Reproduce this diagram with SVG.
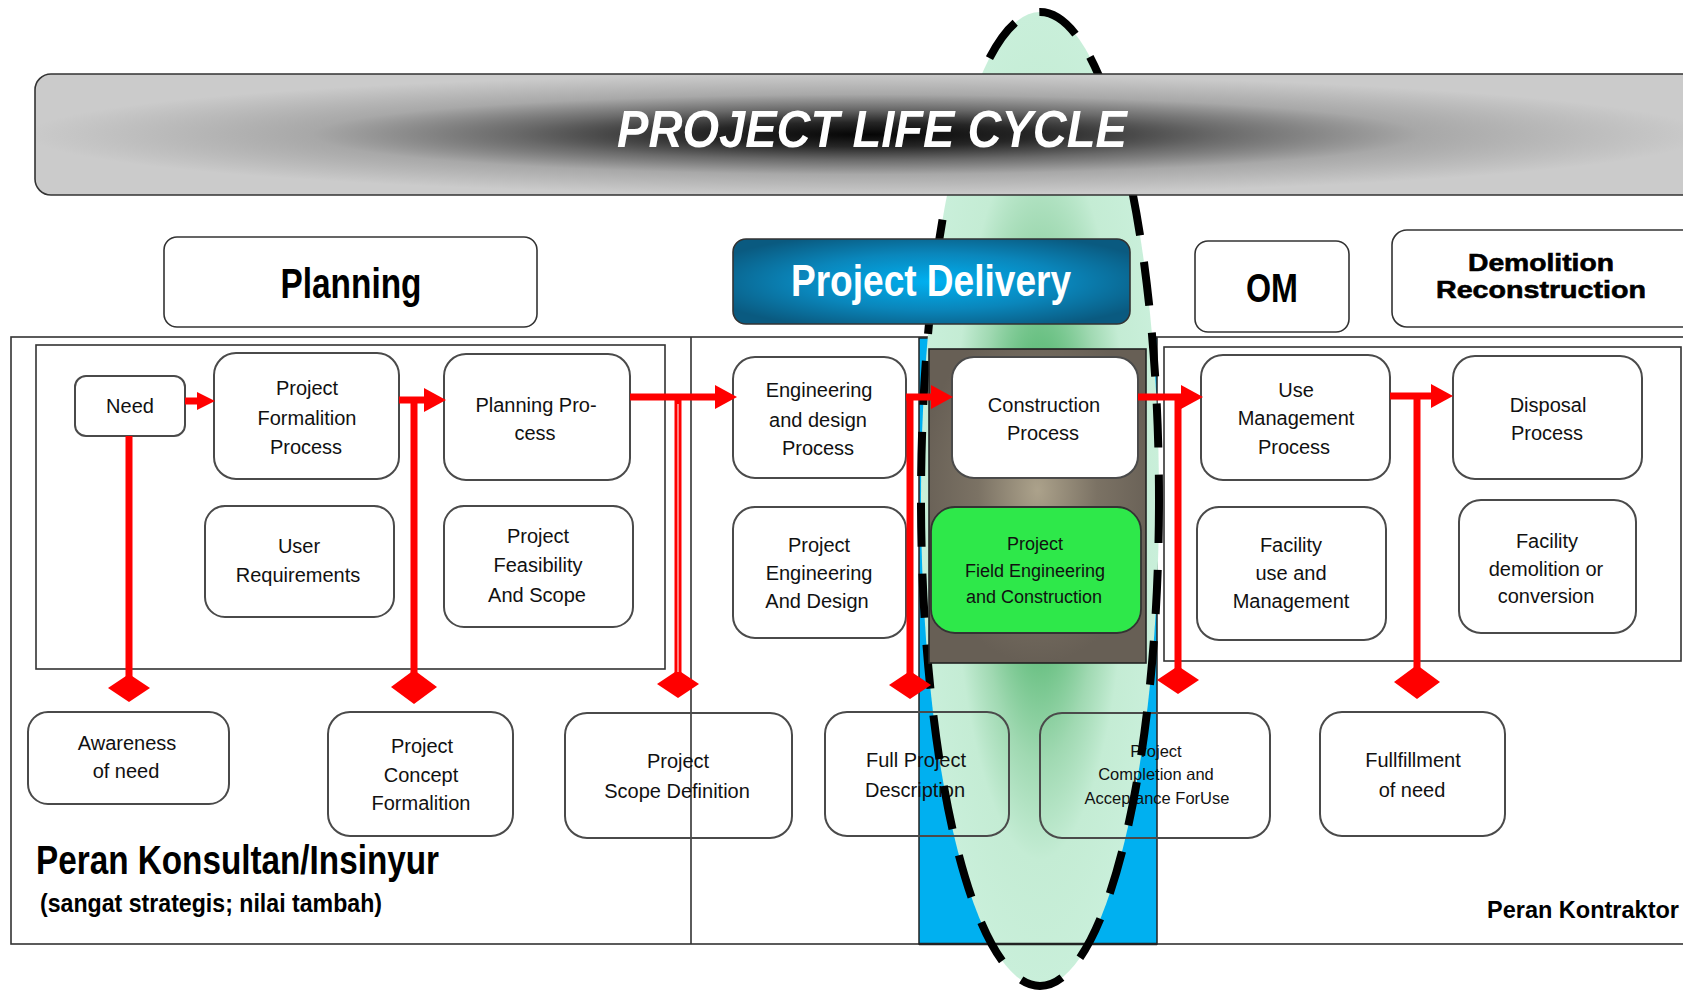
<svg xmlns="http://www.w3.org/2000/svg" width="1683" height="992" viewBox="0 0 1683 992">
<defs>
<style>
.t{font-family:"Liberation Sans",Arial,sans-serif;font-size:20px;fill:#111;text-anchor:middle}
.ts{font-size:16.5px}
.tg{font-size:18px}
.h{font-family:"Liberation Sans",Arial,sans-serif;font-weight:bold;text-anchor:middle;fill:#000}
.nb{fill:#fff;stroke:#4a4a4a;stroke-width:2}
.nbo{fill:none;stroke:#4a4a4a;stroke-width:2}
.fr{fill:none;stroke:#333;stroke-width:1.6}
.cn{fill:none;stroke:#ff0000;stroke-width:7}
</style>
<radialGradient id="gBar" cx="0.495" cy="0.5" r="0.5">
<stop offset="0" stop-color="#050505"/>
<stop offset="0.2" stop-color="#262626"/>
<stop offset="0.42" stop-color="#6a6a6a"/>
<stop offset="0.66" stop-color="#a8a8a8"/>
<stop offset="1" stop-color="#cbcbcb"/>
</radialGradient>
<radialGradient id="gEll" cx="0.5" cy="0.5" r="0.5">
<stop offset="0" stop-color="#4fb169"/>
<stop offset="0.32" stop-color="#69c082"/>
<stop offset="0.54" stop-color="#a0d9b2"/>
<stop offset="0.74" stop-color="#c4ecd4"/>
<stop offset="1" stop-color="#c9efda"/>
</radialGradient>
<radialGradient id="gPD" cx="0.5" cy="0.5" r="0.6">
<stop offset="0" stop-color="#00b0f0"/>
<stop offset="0.55" stop-color="#0a86bb"/>
<stop offset="1" stop-color="#0a5a80"/>
</radialGradient>
<radialGradient id="gBr" cx="0.5" cy="0.45" r="0.55">
<stop offset="0" stop-color="#aca28b"/>
<stop offset="0.5" stop-color="#7b7264"/>
<stop offset="1" stop-color="#675f55"/>
</radialGradient>
<marker id="arr" markerUnits="userSpaceOnUse" markerWidth="24" markerHeight="26" refX="0" refY="12" orient="auto" overflow="visible"><path d="M0,0 L22,12 L0,24 Z" fill="#ff0000"/></marker>
<marker id="arrS" markerUnits="userSpaceOnUse" markerWidth="20" markerHeight="20" refX="0" refY="9" orient="auto" overflow="visible"><path d="M0,0 L18,9 L0,18 Z" fill="#ff0000"/></marker>
<marker id="dia" markerUnits="userSpaceOnUse" markerWidth="44" markerHeight="32" refX="21" refY="14" orient="0" overflow="visible"><path d="M0,14 L21,0 L42,14 L21,28 Z" fill="#ff0000"/></marker>
<marker id="diaL" markerUnits="userSpaceOnUse" markerWidth="48" markerHeight="36" refX="23" refY="17" orient="0" overflow="visible"><path d="M0,17 L23,0 L46,17 L23,34 Z" fill="#ff0000"/></marker>
</defs>

<rect x="0" y="0" width="1683" height="992" fill="#fff"/>

<g id="frames">
<rect class="fr" x="11" y="337" width="1700" height="607"/>
<line class="fr" x1="691" y1="337" x2="691" y2="944"/>
<rect class="fr" x="36" y="345" width="629" height="324"/>
<rect class="fr" x="1164" y="347" width="517" height="314"/>
</g>

<g id="node-need"><rect class="nb" x="75" y="376" width="110" height="60" rx="11"/><text class="t" x="130" y="413">Need</text></g>
<g id="node-formalition"><rect class="nb" x="214" y="353" width="185" height="126" rx="22"/><text class="t" x="307" y="395">Project</text><text class="t" x="307" y="425">Formalition</text><text class="t" x="306" y="454">Process</text></g>
<g id="node-planning-process"><rect class="nb" x="444" y="354" width="186" height="126" rx="22"/><text class="t" x="536" y="412">Planning Pro-</text><text class="t" x="535" y="440">cess</text></g>
<g id="node-user-req"><rect class="nb" x="205" y="506" width="189" height="111" rx="20"/><text class="t" x="299" y="553">User</text><text class="t" x="298" y="582">Requirements</text></g>
<g id="node-feasibility"><rect class="nb" x="444" y="506" width="189" height="121" rx="20"/><text class="t" x="538" y="543">Project</text><text class="t" x="538" y="572">Feasibility</text><text class="t" x="537" y="602">And Scope</text></g>
<g id="node-eng-process"><rect class="nb" x="733" y="357" width="173" height="121" rx="22"/><text class="t" x="819" y="397">Engineering</text><text class="t" x="818" y="427">and design</text><text class="t" x="818" y="455">Process</text></g>
<g id="node-proj-eng"><rect class="nb" x="733" y="507" width="173" height="131" rx="22"/><text class="t" x="819" y="552">Project</text><text class="t" x="819" y="580">Engineering</text><text class="t" x="817" y="608">And Design</text></g>
<g id="node-use-mgmt"><rect class="nb" x="1201" y="355" width="189" height="125" rx="22"/><text class="t" x="1296" y="397">Use</text><text class="t" x="1296" y="425">Management</text><text class="t" x="1294" y="454">Process</text></g>
<g id="node-facility-use"><rect class="nb" x="1197" y="507" width="189" height="133" rx="22"/><text class="t" x="1291" y="552">Facility</text><text class="t" x="1291" y="580">use and</text><text class="t" x="1291" y="608">Management</text></g>
<g id="node-disposal"><rect class="nb" x="1453" y="356" width="189" height="123" rx="22"/><text class="t" x="1548" y="412">Disposal</text><text class="t" x="1547" y="440">Process</text></g>
<g id="node-facility-demo"><rect class="nb" x="1459" y="500" width="177" height="133" rx="22"/><text class="t" x="1547" y="548">Facility</text><text class="t" x="1546" y="576">demolition or</text><text class="t" x="1546" y="603">conversion</text></g>

<g id="contractor-band">
<rect x="919" y="338" width="238" height="606" fill="#00b0f0" stroke="#222" stroke-width="1.5"/>
</g>
<g id="focus-ellipse-fill">
<ellipse cx="1040" cy="499" rx="119" ry="487" fill="url(#gEll)"/>
<line x1="919" y1="944" x2="1157" y2="944" stroke="#222" stroke-width="2.5"/>
</g>

<g id="node-awareness"><rect class="nbo" x="28" y="712" width="201" height="92" rx="20"/><text class="t" x="127" y="750">Awareness</text><text class="t" x="126" y="778">of need</text></g>
<g id="node-concept"><rect class="nbo" x="328" y="712" width="185" height="124" rx="22"/><text class="t" x="422" y="753">Project</text><text class="t" x="421" y="782">Concept</text><text class="t" x="421" y="810">Formalition</text></g>
<g id="node-scope"><rect class="nbo" x="565" y="713" width="227" height="125" rx="22"/><text class="t" x="678" y="768">Project</text><text class="t" x="677" y="798">Scope Definition</text></g>
<g id="node-full-desc"><rect class="nbo" x="825" y="712" width="184" height="124" rx="22"/><text class="t" x="916" y="767">Full Project</text><text class="t" x="915" y="797">Description</text></g>
<g id="node-completion"><rect class="nbo" x="1040" y="713" width="230" height="125" rx="22"/><text class="t ts" x="1156" y="757">Project</text><text class="t ts" x="1156" y="780">Completion and</text><text class="t ts" x="1157" y="804">Acceptance ForUse</text></g>
<g id="node-fulfillment"><rect class="nbo" x="1320" y="712" width="185" height="124" rx="22"/><text class="t" x="1413" y="767">Fullfillment</text><text class="t" x="1412" y="797">of need</text></g>

<g id="focus-ellipse-outline">
<ellipse cx="1040" cy="499" rx="119" ry="487" fill="none" stroke="#000" stroke-width="8" stroke-dasharray="44 27"/>
</g>

<g id="title-bar">
<rect x="35" y="74" width="1680" height="121" rx="16" fill="url(#gBar)" stroke="#333" stroke-width="1.6"/>
<text x="872" y="147" font-family="'Liberation Sans',Arial,sans-serif" font-size="52" font-weight="bold" font-style="italic" fill="#fff" text-anchor="middle" textLength="510" lengthAdjust="spacingAndGlyphs">PROJECT LIFE CYCLE</text>
</g>

<g id="node-planning"><rect x="164" y="237" width="373" height="90" rx="13" fill="#fff" stroke="#333" stroke-width="1.6"/><text class="h" x="351" y="298" font-size="42" textLength="141" lengthAdjust="spacingAndGlyphs">Planning</text></g>
<g id="node-project-delivery"><rect x="733" y="239" width="397" height="85" rx="13" fill="url(#gPD)" stroke="#333" stroke-width="1.6"/><text class="h" x="931" y="296" font-size="44" style="fill:#fff" textLength="280" lengthAdjust="spacingAndGlyphs">Project Delivery</text></g>
<g id="node-om"><rect x="1195" y="241" width="154" height="91" rx="13" fill="#fff" stroke="#333" stroke-width="1.6"/><text class="h" x="1272" y="302" font-size="40" textLength="52" lengthAdjust="spacingAndGlyphs">OM</text></g>
<g id="node-demolition"><rect x="1392" y="230" width="320" height="97" rx="15" fill="#fff" stroke="#333" stroke-width="1.6"/><text class="h" x="1541" y="271" font-size="24" stroke="#000" stroke-width="0.6" textLength="146" lengthAdjust="spacingAndGlyphs">Demolition</text><text class="h" x="1541" y="298" font-size="24" stroke="#000" stroke-width="0.6" textLength="210" lengthAdjust="spacingAndGlyphs">Reconstruction</text></g>

<g id="construction-block">
<rect x="929" y="349" width="217" height="314" fill="url(#gBr)" stroke="#222" stroke-width="1.6"/>
</g>
<g id="node-construction"><rect class="nb" x="952" y="357" width="186" height="121" rx="22"/><text class="t" x="1044" y="412">Construction</text><text class="t" x="1043" y="440">Process</text></g>
<g id="node-field-eng"><rect x="931" y="507" width="210" height="126" rx="24" fill="#2ee84a" stroke="#333" stroke-width="1.8"/><text class="t tg" x="1035" y="550">Project</text><text class="t tg" x="1035" y="577">Field Engineering</text><text class="t tg" x="1034" y="603">and Construction</text></g>

<g id="connectors">
<line class="cn" x1="185" y1="401" x2="197" y2="401" marker-end="url(#arrS)"/>
<line class="cn" x1="129" y1="436" x2="129" y2="688" marker-end="url(#dia)"/>
<line class="cn" x1="399" y1="400" x2="424" y2="400" marker-end="url(#arr)"/>
<line class="cn" x1="414" y1="400" x2="414" y2="687" marker-end="url(#diaL)"/>
<line class="cn" x1="630" y1="397" x2="715" y2="397" marker-end="url(#arr)"/>
<line class="cn" x1="678" y1="397" x2="678" y2="684" marker-end="url(#dia)"/>
<line x1="678" y1="404" x2="678" y2="672" stroke="#fff" stroke-width="1"/>
<line class="cn" x1="906" y1="397" x2="931" y2="397" marker-end="url(#arr)"/>
<line class="cn" x1="910" y1="397" x2="910" y2="685" marker-end="url(#dia)"/>
<line class="cn" x1="1138" y1="397" x2="1181" y2="397" marker-end="url(#arr)"/>
<line class="cn" x1="1178" y1="397" x2="1178" y2="680" marker-end="url(#dia)"/>
<line class="cn" x1="1390" y1="396" x2="1431" y2="396" marker-end="url(#arr)"/>
<line class="cn" x1="1417" y1="396" x2="1417" y2="682" marker-end="url(#diaL)"/>
</g>

<g id="labels">
<text x="36" y="874" font-family="'Liberation Sans',Arial,sans-serif" font-size="40" font-weight="bold" fill="#000" textLength="403" lengthAdjust="spacingAndGlyphs">Peran Konsultan/Insinyur</text>
<text x="40" y="912" font-family="'Liberation Sans',Arial,sans-serif" font-size="26" font-weight="bold" fill="#000" textLength="342" lengthAdjust="spacingAndGlyphs">(sangat strategis; nilai tambah)</text>
<text x="1487" y="918" font-family="'Liberation Sans',Arial,sans-serif" font-size="24" font-weight="bold" fill="#000" textLength="192" lengthAdjust="spacingAndGlyphs">Peran Kontraktor</text>
</g>
</svg>
